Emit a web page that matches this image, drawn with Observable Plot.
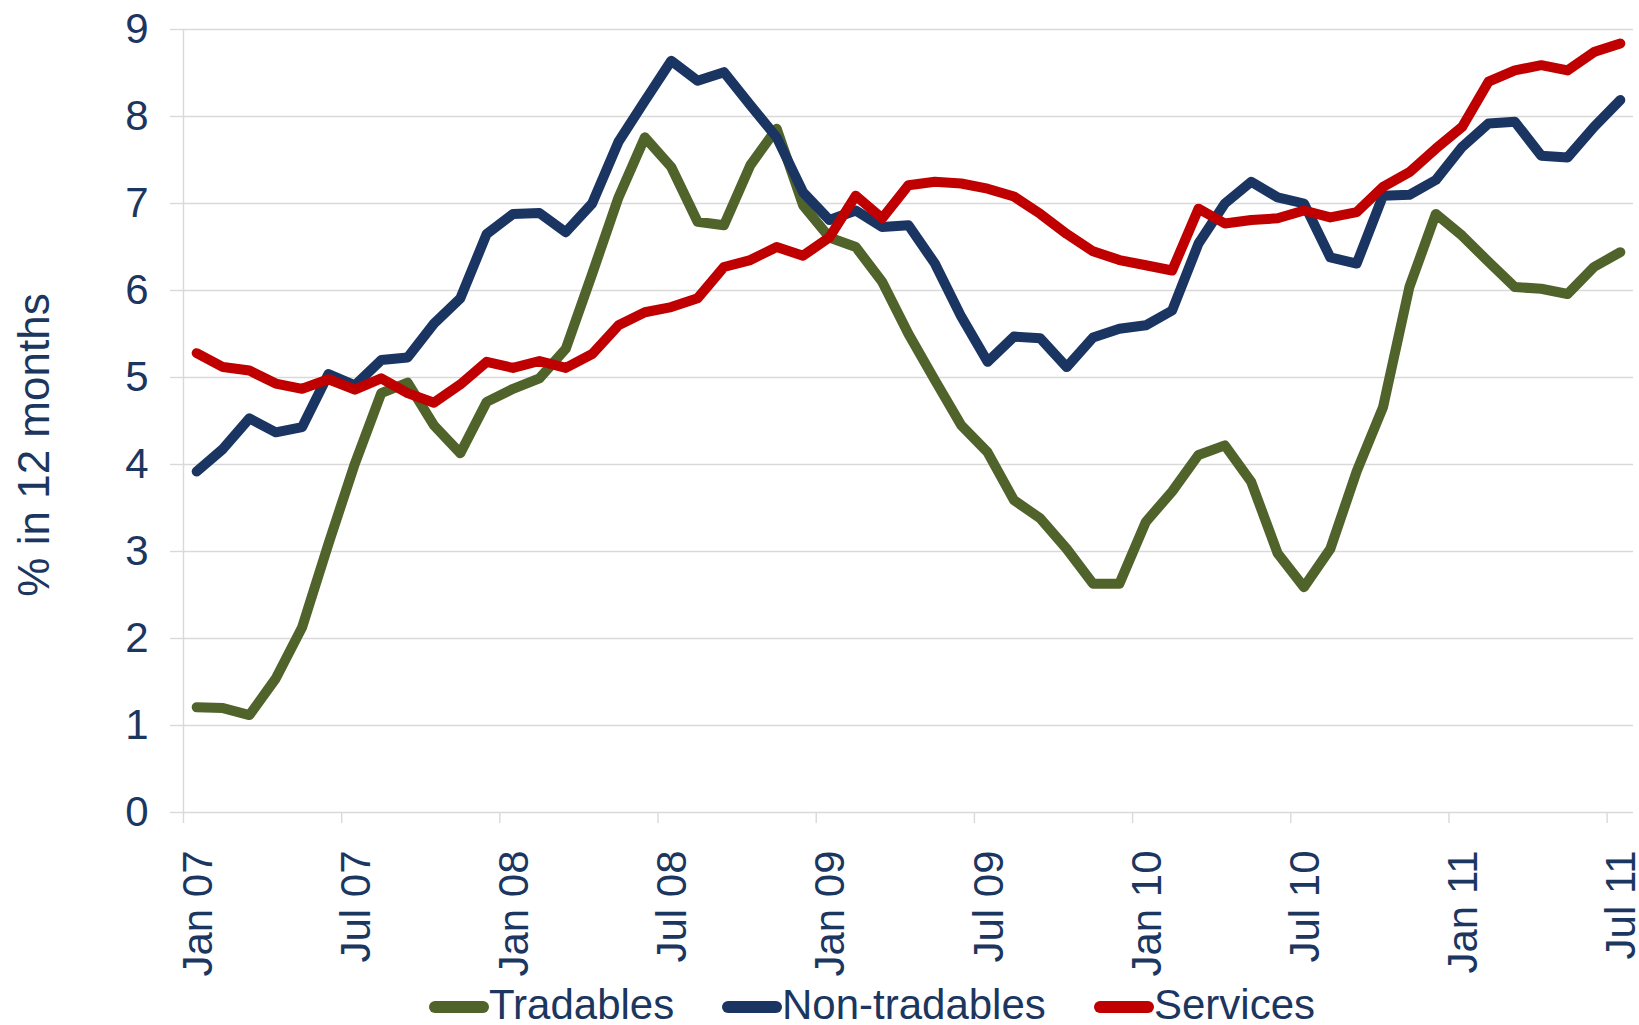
<!DOCTYPE html>
<html>
<head>
<meta charset="utf-8">
<script src="https://cdn.jsdelivr.net/npm/d3@7"></script>
<script src="https://cdn.jsdelivr.net/npm/@observablehq/plot@0.6"></script>
<style>
  html, body { margin: 0; padding: 0; background: #ffffff; }
  #wrap { position: relative; width: 1639px; height: 1025px;
          font-family: "Liberation Sans", Arial, sans-serif; }
  #chart svg { display: block; }
  .sw { position: absolute; top: 1001px; width: 60px; height: 12px; border-radius: 6px; }
  .lt { position: absolute; top: 987px; height: 36px; line-height: 36px; font-size: 42px;
        color: #1B365F; white-space: nowrap; }
</style>
</head>
<body>
<div id="wrap">
  <div id="chart"></div>
  <div id="legend"></div>
</div>
<script>
// ---- data (monthly, % change in 12 months) ----
const months = [
  "Jan 07","Feb 07","Mar 07","Apr 07","May 07","Jun 07","Jul 07","Aug 07","Sep 07","Oct 07","Nov 07","Dec 07",
  "Jan 08","Feb 08","Mar 08","Apr 08","May 08","Jun 08","Jul 08","Aug 08","Sep 08","Oct 08","Nov 08","Dec 08",
  "Jan 09","Feb 09","Mar 09","Apr 09","May 09","Jun 09","Jul 09","Aug 09","Sep 09","Oct 09","Nov 09","Dec 09",
  "Jan 10","Feb 10","Mar 10","Apr 10","May 10","Jun 10","Jul 10","Aug 10","Sep 10","Oct 10","Nov 10","Dec 10",
  "Jan 11","Feb 11","Mar 11","Apr 11","May 11","Jun 11","Jul 11"
];
const tickLabels = ["Jan 07","Jul 07","Jan 08","Jul 08","Jan 09","Jul 09","Jan 10","Jul 10","Jan 11","Jul 11"];
const yTicks = [0,1,2,3,4,5,6,7,8,9];

const tradables = [
  1.21,1.20,1.12,1.54,2.13,3.09,4.01,4.82,4.94,4.45,4.13,4.72,
  4.87,4.99,5.33,6.19,7.07,7.76,7.42,6.79,6.75,7.44,7.86,6.98,
  6.61,6.50,6.10,5.50,4.97,4.45,4.14,3.59,3.38,3.03,2.63,2.63,
  3.34,3.69,4.11,4.22,3.80,2.98,2.59,3.03,3.92,4.66,6.04,6.88,
  6.63,6.33,6.04,6.02,5.96,6.27,6.44
];
const nonTradables = [
  3.92,4.18,4.53,4.37,4.43,5.04,4.91,5.20,5.23,5.62,5.91,6.65,
  6.88,6.89,6.67,7.00,7.71,8.18,8.64,8.41,8.51,8.13,7.76,7.13,
  6.81,6.92,6.73,6.75,6.31,5.70,5.18,5.47,5.45,5.12,5.46,5.56,
  5.60,5.77,6.54,7.00,7.25,7.07,7.00,6.38,6.31,7.09,7.10,7.27,
  7.65,7.92,7.94,7.55,7.53,7.88,8.19
];
const services = [
  5.28,5.12,5.08,4.93,4.87,4.98,4.86,4.99,4.82,4.71,4.92,5.18,
  5.11,5.19,5.11,5.27,5.60,5.75,5.81,5.91,6.27,6.35,6.50,6.40,
  6.61,7.09,6.83,7.21,7.25,7.23,7.17,7.08,6.88,6.65,6.45,6.35,
  6.29,6.23,6.94,6.77,6.81,6.83,6.92,6.84,6.90,7.19,7.36,7.63,
  7.88,8.40,8.53,8.59,8.53,8.74,8.84
];
const seriesNames = ["Tradables","Non-tradables","Services"];
const seriesColors = ["#50632A","#1B3563","#C00000"];
const yLabel = "% in 12 months";

// ---- build tables ----
const navy = "#1B365F";
const grid = "#D9D9D9";
const seriesValues = [tradables, nonTradables, services];
const rows = [];
seriesNames.forEach((name, s) => {
  seriesValues[s].forEach((v, i) => rows.push({series: name, idx: i + 0.5, value: v}));
});
const boundaries = tickLabels.map(l => months.indexOf(l));         // month boundaries (tick marks)
const labelRows = tickLabels.map(l => ({pos: months.indexOf(l) + 0.5, label: l}));

const chart = Plot.plot({
  width: 1639,
  height: 982,
  marginTop: 29,
  marginBottom: 170,
  marginLeft: 183,
  marginRight: 6,
  style: {fontFamily: "'Liberation Sans', Arial, sans-serif", background: "#ffffff", color: navy, overflow: "visible"},
  x: {type: "linear", domain: [0, months.length], axis: null},
  y: {domain: [0, 9], axis: null},
  color: {domain: seriesNames, range: seriesColors},
  marks: [
    Plot.gridY(yTicks, {stroke: grid, strokeOpacity: 1, strokeWidth: 1.6}),
    Plot.axisY(yTicks, {tickSize: 13, tickPadding: 22, fontSize: 42, stroke: grid, strokeOpacity: 1, strokeWidth: 1.4,
                        fill: navy, label: null, tickFormat: d => String(d)}),
    Plot.ruleX([0], {stroke: grid, strokeWidth: 1.4}),
    Plot.axisX(boundaries, {tickSize: 11, stroke: grid, strokeOpacity: 1, strokeWidth: 1.4, tickFormat: () => "", label: null}),
    Plot.text(labelRows, {x: "pos", text: "label", frameAnchor: "bottom", rotate: -90, textAnchor: "end",
                          lineAnchor: "middle", dy: 38, dx: 1.5, fontSize: 42, fill: navy}),
    Plot.text([yLabel], {frameAnchor: "left", rotate: -90, textAnchor: "middle", lineAnchor: "middle",
                         dx: -149, dy: 24, fontSize: 44, fill: navy}),
    Plot.line(rows, {x: "idx", y: "value", z: "series", stroke: "series", strokeWidth: 10,
                     strokeLinejoin: "round", strokeLinecap: "round"})
  ]
});
document.getElementById("chart").appendChild(chart);

// ---- legend ----
const legend = document.getElementById("legend");
const swatchLeft = [429, 722, 1094];
seriesNames.forEach((name, s) => {
  const sw = document.createElement("div");
  sw.className = "sw";
  sw.style.left = swatchLeft[s] + "px";
  sw.style.background = seriesColors[s];
  legend.appendChild(sw);
  const t = document.createElement("div");
  t.className = "lt";
  t.style.left = (swatchLeft[s] + 60) + "px";
  t.textContent = name;
  legend.appendChild(t);
});
</script>
</body>
</html>
